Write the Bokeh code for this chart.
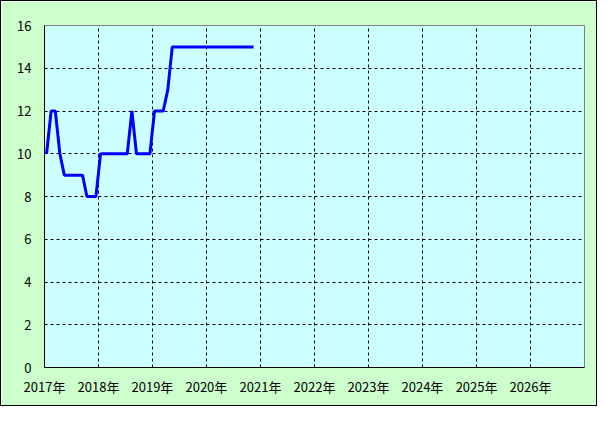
from datetime import datetime
import pandas as pd
from bokeh.plotting import figure
from bokeh.models import Range1d, FixedTicker, DatetimeTickFormatter, ColumnDataSource
from bokeh.embed import file_html
from bokeh.resources import INLINE

# ---- data (monthly, plotted mid-month) ----
months = [
    "2017-01", "2017-02", "2017-03", "2017-04", "2017-05", "2017-06",
    "2017-07", "2017-08", "2017-09", "2017-10", "2017-11", "2017-12",
    "2018-01", "2018-02", "2018-03", "2018-04", "2018-05", "2018-06",
    "2018-07", "2018-08", "2018-09", "2018-10", "2018-11", "2018-12",
    "2019-01", "2019-02", "2019-03", "2019-04", "2019-05", "2019-06",
    "2019-07", "2019-08", "2019-09", "2019-10", "2019-11", "2019-12",
    "2020-01", "2020-02", "2020-03", "2020-04", "2020-05", "2020-06",
    "2020-07", "2020-08", "2020-09", "2020-10", "2020-11",
]
values = [
    10, 12, 12, 10, 9, 9, 9, 9, 9, 8, 8, 8,
    10, 10, 10, 10, 10, 10, 10, 12, 10, 10, 10, 10,
    12, 12, 12, 13, 15, 15, 15, 15, 15, 15, 15, 15,
    15, 15, 15, 15, 15, 15, 15, 15, 15, 15, 15,
]
year_ticks = [2017, 2018, 2019, 2020, 2021, 2022, 2023, 2024, 2025, 2026]
y_ticks = [0, 2, 4, 6, 8, 10, 12, 14, 16]

dates = [pd.Timestamp(m + "-15") for m in months]
src = ColumnDataSource(dict(x=dates, y=values))

def ms(y):
    return pd.Timestamp(f"{y}-01-01").value / 1e6

FONT = "Noto Sans CJK JP"

p = figure(
    width=597, height=406,
    x_axis_type="datetime",
    x_range=Range1d(start=datetime(2017, 1, 1), end=datetime(2027, 1, 1)),
    y_range=Range1d(start=0, end=16),
    output_backend="svg", toolbar_location=None,
    min_border_left=43, min_border_right=14, min_border_top=24, min_border_bottom=40,
    background_fill_color="#CCFFFF", border_fill_color="#CCFFCC",
    outline_line_color="#808080", outline_line_width=1,
)
p.styles = {"border": "1px solid black"}

p.line("x", "y", source=src, line_color="#0000FF", line_width=3)

# axes
p.xaxis.ticker = FixedTicker(ticks=[ms(y) for y in year_ticks])
fmt = "%Y年"
p.xaxis.formatter = DatetimeTickFormatter(
    years=fmt, months=fmt, days=fmt, hours=fmt, minutes=fmt,
    seconds=fmt, milliseconds=fmt, microseconds=fmt, hourmin=fmt, minsec=fmt,
)
p.yaxis.ticker = FixedTicker(ticks=y_ticks)
for ax in (p.xaxis, p.yaxis):
    ax.axis_line_color = "black"
    ax.axis_line_width = 1
    ax.major_tick_line_color = None
    ax.minor_tick_line_color = None
    ax.major_tick_out = 0
    ax.major_tick_in = 0
    ax.major_label_text_font = FONT
    ax.major_label_text_font_size = "13px"
    ax.major_label_text_color = "black"
p.yaxis.major_label_standoff = 13
p.xaxis.major_label_standoff = 9

# grids
p.xgrid.ticker = FixedTicker(ticks=[ms(y) for y in year_ticks[1:]])
p.ygrid.ticker = FixedTicker(ticks=y_ticks[1:-1])
for g in (p.xgrid, p.ygrid):
    g.grid_line_color = "black"
    g.grid_line_dash = "3 3"
    g.grid_line_width = 1

open("out.html", "w").write(file_html(p, INLINE))
